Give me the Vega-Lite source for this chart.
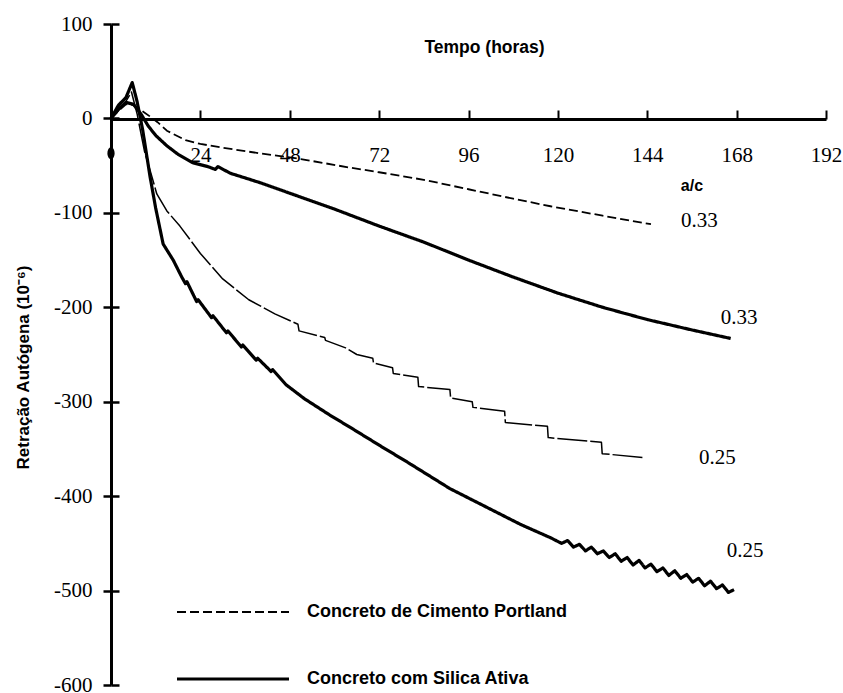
{
  "$schema": "https://vega.github.io/schema/vega-lite/v6.json",
  "width": 715,
  "height": 661,
  "autosize": "none",
  "padding": {"left": 111, "top": 24, "right": 17, "bottom": 8},
  "background": "white",
  "config": {"view": {"stroke": null}},
  "datasets": {
    "curvas": [
      {"serie": "CP 0.33", "t": 0, "v": 0}, {"serie": "CP 0.33", "t": 2, "v": 8}, {"serie": "CP 0.33", "t": 4, "v": 15}, {"serie": "CP 0.33", "t": 6, "v": 14}, {"serie": "CP 0.33", "t": 8, "v": 9}, {"serie": "CP 0.33", "t": 10.5, "v": 2}, {"serie": "CP 0.33", "t": 12.5, "v": -4}, {"serie": "CP 0.33", "t": 15, "v": -13}, {"serie": "CP 0.33", "t": 20, "v": -23}, {"serie": "CP 0.33", "t": 24, "v": -27}, {"serie": "CP 0.33", "t": 30, "v": -31}, {"serie": "CP 0.33", "t": 40, "v": -37}, {"serie": "CP 0.33", "t": 51, "v": -43}, {"serie": "CP 0.33", "t": 64, "v": -52}, {"serie": "CP 0.33", "t": 72, "v": -57}, {"serie": "CP 0.33", "t": 84, "v": -65}, {"serie": "CP 0.33", "t": 96, "v": -75}, {"serie": "CP 0.33", "t": 108, "v": -85}, {"serie": "CP 0.33", "t": 118, "v": -93}, {"serie": "CP 0.33", "t": 132, "v": -103}, {"serie": "CP 0.33", "t": 145, "v": -112},

      {"serie": "SA 0.33", "t": 0, "v": 0}, {"serie": "SA 0.33", "t": 2, "v": 10}, {"serie": "SA 0.33", "t": 4, "v": 17}, {"serie": "SA 0.33", "t": 6, "v": 15}, {"serie": "SA 0.33", "t": 8, "v": 5}, {"serie": "SA 0.33", "t": 10, "v": -8}, {"serie": "SA 0.33", "t": 12, "v": -18}, {"serie": "SA 0.33", "t": 15, "v": -29}, {"serie": "SA 0.33", "t": 18, "v": -38}, {"serie": "SA 0.33", "t": 22, "v": -47}, {"serie": "SA 0.33", "t": 26, "v": -51}, {"serie": "SA 0.33", "t": 28, "v": -54}, {"serie": "SA 0.33", "t": 28.7, "v": -51}, {"serie": "SA 0.33", "t": 32, "v": -58}, {"serie": "SA 0.33", "t": 40, "v": -68}, {"serie": "SA 0.33", "t": 50, "v": -82}, {"serie": "SA 0.33", "t": 60, "v": -96}, {"serie": "SA 0.33", "t": 72, "v": -114}, {"serie": "SA 0.33", "t": 84, "v": -131}, {"serie": "SA 0.33", "t": 96, "v": -150}, {"serie": "SA 0.33", "t": 108, "v": -168}, {"serie": "SA 0.33", "t": 120, "v": -185}, {"serie": "SA 0.33", "t": 132, "v": -200}, {"serie": "SA 0.33", "t": 144, "v": -213}, {"serie": "SA 0.33", "t": 156, "v": -224}, {"serie": "SA 0.33", "t": 166.4, "v": -233},

      {"serie": "CP 0.25", "t": 0, "v": 0}, {"serie": "CP 0.25", "t": 2, "v": 8}, {"serie": "CP 0.25", "t": 4, "v": 18}, {"serie": "CP 0.25", "t": 5.5, "v": 28}, {"serie": "CP 0.25", "t": 7, "v": 5}, {"serie": "CP 0.25", "t": 9, "v": -35}, {"serie": "CP 0.25", "t": 10.5, "v": -55}, {"serie": "CP 0.25", "t": 12.3, "v": -80}, {"serie": "CP 0.25", "t": 15, "v": -98}, {"serie": "CP 0.25", "t": 18.5, "v": -114}, {"serie": "CP 0.25", "t": 24, "v": -143}, {"serie": "CP 0.25", "t": 30, "v": -170}, {"serie": "CP 0.25", "t": 37, "v": -192}, {"serie": "CP 0.25", "t": 44, "v": -207}, {"serie": "CP 0.25", "t": 50.2, "v": -218}, {"serie": "CP 0.25", "t": 50.5, "v": -225}, {"serie": "CP 0.25", "t": 57.4, "v": -232}, {"serie": "CP 0.25", "t": 57.6, "v": -235}, {"serie": "CP 0.25", "t": 63, "v": -243}, {"serie": "CP 0.25", "t": 66, "v": -250}, {"serie": "CP 0.25", "t": 70.3, "v": -254}, {"serie": "CP 0.25", "t": 70.5, "v": -259}, {"serie": "CP 0.25", "t": 75.6, "v": -264}, {"serie": "CP 0.25", "t": 75.8, "v": -270}, {"serie": "CP 0.25", "t": 82.4, "v": -274}, {"serie": "CP 0.25", "t": 82.6, "v": -284}, {"serie": "CP 0.25", "t": 91, "v": -287}, {"serie": "CP 0.25", "t": 91.2, "v": -296}, {"serie": "CP 0.25", "t": 97, "v": -300}, {"serie": "CP 0.25", "t": 97.2, "v": -306}, {"serie": "CP 0.25", "t": 105.7, "v": -310}, {"serie": "CP 0.25", "t": 105.9, "v": -322}, {"serie": "CP 0.25", "t": 117.2, "v": -326}, {"serie": "CP 0.25", "t": 117.4, "v": -338}, {"serie": "CP 0.25", "t": 131.7, "v": -343}, {"serie": "CP 0.25", "t": 131.9, "v": -355}, {"serie": "CP 0.25", "t": 142.7, "v": -359},

      {"serie": "SA 0.25", "t": 0, "v": 0}, {"serie": "SA 0.25", "t": 2, "v": 14}, {"serie": "SA 0.25", "t": 4, "v": 22}, {"serie": "SA 0.25", "t": 5.7, "v": 38}, {"serie": "SA 0.25", "t": 7, "v": 18}, {"serie": "SA 0.25", "t": 8.5, "v": -12}, {"serie": "SA 0.25", "t": 10.5, "v": -62}, {"serie": "SA 0.25", "t": 12, "v": -95}, {"serie": "SA 0.25", "t": 14, "v": -133}, {"serie": "SA 0.25", "t": 16.7, "v": -150}, {"serie": "SA 0.25", "t": 19, "v": -168}, {"serie": "SA 0.25", "t": 20, "v": -175}, {"serie": "SA 0.25", "t": 20.4, "v": -173}, {"serie": "SA 0.25", "t": 23, "v": -194}, {"serie": "SA 0.25", "t": 23.4, "v": -192}, {"serie": "SA 0.25", "t": 27, "v": -211}, {"serie": "SA 0.25", "t": 27.4, "v": -209}, {"serie": "SA 0.25", "t": 31, "v": -227}, {"serie": "SA 0.25", "t": 31.4, "v": -225}, {"serie": "SA 0.25", "t": 35, "v": -242}, {"serie": "SA 0.25", "t": 35.4, "v": -240}, {"serie": "SA 0.25", "t": 39, "v": -256}, {"serie": "SA 0.25", "t": 39.4, "v": -254}, {"serie": "SA 0.25", "t": 43, "v": -268}, {"serie": "SA 0.25", "t": 43.4, "v": -266}, {"serie": "SA 0.25", "t": 47, "v": -282}, {"serie": "SA 0.25", "t": 52, "v": -297}, {"serie": "SA 0.25", "t": 58.7, "v": -314}, {"serie": "SA 0.25", "t": 65, "v": -329}, {"serie": "SA 0.25", "t": 72, "v": -346}, {"serie": "SA 0.25", "t": 80, "v": -365}, {"serie": "SA 0.25", "t": 91, "v": -392}, {"serie": "SA 0.25", "t": 100, "v": -410}, {"serie": "SA 0.25", "t": 110, "v": -430}, {"serie": "SA 0.25", "t": 118, "v": -444}, {"serie": "SA 0.25", "t": 121, "v": -450}, {"serie": "SA 0.25", "t": 122.6, "v": -447}, {"serie": "SA 0.25", "t": 124.2, "v": -454}, {"serie": "SA 0.25", "t": 125.8, "v": -451}, {"serie": "SA 0.25", "t": 127.4, "v": -458}, {"serie": "SA 0.25", "t": 129, "v": -454}, {"serie": "SA 0.25", "t": 130.6, "v": -461}, {"serie": "SA 0.25", "t": 132.2, "v": -458}, {"serie": "SA 0.25", "t": 133.8, "v": -465}, {"serie": "SA 0.25", "t": 135.4, "v": -461}, {"serie": "SA 0.25", "t": 137, "v": -469}, {"serie": "SA 0.25", "t": 138.6, "v": -465}, {"serie": "SA 0.25", "t": 140.2, "v": -473}, {"serie": "SA 0.25", "t": 141.8, "v": -468}, {"serie": "SA 0.25", "t": 143.4, "v": -476}, {"serie": "SA 0.25", "t": 145, "v": -472}, {"serie": "SA 0.25", "t": 146.6, "v": -480}, {"serie": "SA 0.25", "t": 148.2, "v": -476}, {"serie": "SA 0.25", "t": 149.8, "v": -484}, {"serie": "SA 0.25", "t": 151.4, "v": -479}, {"serie": "SA 0.25", "t": 153, "v": -487}, {"serie": "SA 0.25", "t": 154.6, "v": -483}, {"serie": "SA 0.25", "t": 156.2, "v": -491}, {"serie": "SA 0.25", "t": 157.8, "v": -487}, {"serie": "SA 0.25", "t": 159.4, "v": -495}, {"serie": "SA 0.25", "t": 161, "v": -490}, {"serie": "SA 0.25", "t": 162.6, "v": -498}, {"serie": "SA 0.25", "t": 164.2, "v": -494}, {"serie": "SA 0.25", "t": 165.8, "v": -502}, {"serie": "SA 0.25", "t": 167.3, "v": -499}
    ],
    "rotulos": [
      {"t": 158, "v": -109, "rotulo": "0.33"},
      {"t": 168.7, "v": -211, "rotulo": "0.33"},
      {"t": 162.8, "v": -360, "rotulo": "0.25"},
      {"t": 170.3, "v": -458, "rotulo": "0.25"}
    ],
    "cabecalho": [
      {"t": 156, "v": -72, "rotulo": "a/c"}
    ],
    "marca": [
      {"t": 0, "v": -37}
    ]
  },
  "layer": [
    {
      "data": {"name": "curvas"},
      "mark": {"type": "line", "color": "black", "strokeCap": "butt", "strokeJoin": "round"},
      "encoding": {
        "x": {
          "field": "t", "type": "quantitative",
          "scale": {"domain": [0, 192], "nice": false, "zero": false},
          "axis": {
            "orient": "top", "offset": -95, "values": [24, 48, 72, 96, 120, 144, 168, 192],
            "title": "Tempo (horas)", "titleFont": "Liberation Sans", "titleFontSize": 17.5, "titleFontWeight": "bold",
            "titleColor": "black", "titleX": 373, "titleY": -72, "titleBaseline": "middle", "titleAnchor": null, "titleAlign": "center",
            "domainColor": "black", "domainWidth": 3, "tickColor": "black", "tickWidth": 2, "tickSize": 9,
            "labelFont": "Liberation Serif", "labelFontSize": 21, "labelColor": "black", "labelBaseline": "middle",
            "labelPadding": -45, "labelFlush": false, "labelOverlap": false, "grid": false
          }
        },
        "y": {
          "field": "v", "type": "quantitative",
          "scale": {"domain": [-600, 100], "nice": false, "zero": false},
          "axis": {
            "orient": "left", "values": [-600, -500, -400, -300, -200, -100, 0, 100],
            "labelExpr": "toString(datum.value)",
            "title": "Retração Autógena (10⁻⁶)", "titleFont": "Liberation Sans", "titleFontSize": 17, "titleFontWeight": "bold",
            "titleColor": "black", "titleX": -88, "titleY": 343, "titleAngle": -90, "titleBaseline": "middle", "titleAlign": "center", "titleAnchor": null,
            "domainColor": "black", "domainWidth": 3, "tickColor": "black", "tickWidth": 2.5, "tickSize": 8,
            "labelFont": "Liberation Serif", "labelFontSize": 21, "labelColor": "black", "labelPadding": 11,
            "labelFlush": false, "labelOverlap": false, "grid": false
          }
        },
        "detail": {"field": "serie", "type": "nominal"},
        "strokeDash": {
          "field": "serie", "type": "nominal",
          "scale": {"domain": ["CP 0.33", "CP 0.25", "SA 0.33", "SA 0.25"], "range": [[9, 4], [30, 3], [1, 0], [1, 0]]},
          "legend": {
            "values": ["CP 0.33", "SA 0.33"],
            "labelExpr": "datum.value == 'CP 0.33' ? 'Concreto de Cimento Portland' : 'Concreto com Silica Ativa'",
            "orient": "none", "legendX": 64, "legendY": 531, "title": null,
            "symbolType": "stroke", "symbolSize": 12544, "symbolStrokeColor": "black", "symbolStrokeWidth": 2.5,
            "labelFont": "Liberation Sans", "labelFontSize": 18, "labelFontWeight": "bold", "labelColor": "black",
            "labelOffset": 16, "rowPadding": -53, "labelLimit": 400
          }
        },
        "strokeWidth": {
          "field": "serie", "type": "nominal",
          "scale": {"type": "ordinal", "domain": ["CP 0.33", "CP 0.25", "SA 0.33", "SA 0.25"], "range": [1.8, 1.5, 3.2, 3.2]},
          "legend": null
        }
      }
    },
    {
      "data": {"name": "rotulos"},
      "mark": {"type": "text", "font": "Liberation Serif", "fontSize": 21, "color": "black", "align": "center", "baseline": "middle"},
      "encoding": {
        "x": {"field": "t", "type": "quantitative"},
        "y": {"field": "v", "type": "quantitative", "axis": null},
        "text": {"field": "rotulo", "type": "nominal"}
      }
    },
    {
      "data": {"name": "cabecalho"},
      "mark": {"type": "text", "font": "Liberation Sans", "fontSize": 16, "fontWeight": "bold", "color": "black", "align": "center", "baseline": "middle"},
      "encoding": {
        "x": {"field": "t", "type": "quantitative"},
        "y": {"field": "v", "type": "quantitative", "axis": null},
        "text": {"field": "rotulo", "type": "nominal"}
      }
    },
    {
      "data": {"name": "marca"},
      "mark": {"type": "point", "filled": true, "color": "black", "opacity": 1, "size": 144, "shape": "M -0.6 0 A 0.6 1 0 1 0 0.6 0 A 0.6 1 0 1 0 -0.6 0 Z"},
      "encoding": {
        "x": {"field": "t", "type": "quantitative"},
        "y": {
          "field": "v", "type": "quantitative",
          "axis": {"orient": "right", "offset": -715, "values": [-600, -500, -400, -300, -200, -100, 0, 100],
                   "labels": false, "domain": false, "title": null, "grid": false,
                   "tickColor": "black", "tickWidth": 2.5, "tickSize": 8}
        }
      }
    }
  ],
  "resolve": {"axis": {"y": "independent"}}
}
